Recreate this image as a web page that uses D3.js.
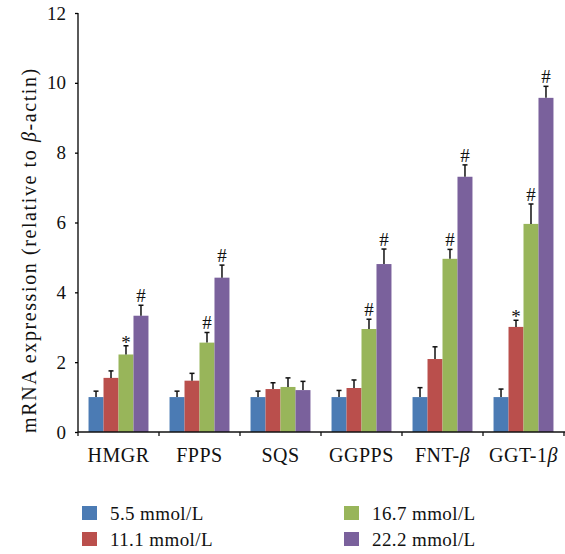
<!DOCTYPE html>
<meta charset="utf-8">
<script src="https://d3js.org/d3.v7.min.js"></script>
<style>
  body { margin: 0; background: #fff; }
  text { font-family: "Liberation Serif", "Times New Roman", serif; fill: #111; }
</style>
<div id="my_dataviz"></div>
<script>

// genes on the x axis
var genes = ["HMGR", "FPPS", "SQS", "GGPPS", "FNT-β", "GGT-1β"];
// glucose groups
var groups = ["5.5 mmol/L", "11.1 mmol/L", "16.7 mmol/L", "22.2 mmol/L"];
var colors = ["#4b7bb4", "#ba4f4c", "#98b55a", "#7a619c"];

// mean values, one array per glucose group (same order as genes)
var g55  = [1.0, 1.0, 1.0, 1.0, 1.0, 1.0];
var g111 = [1.55, 1.47, 1.23, 1.26, 2.09, 3.01];
var g167 = [2.22, 2.56, 1.29, 2.95, 4.96, 5.96];
var g222 = [3.33, 4.42, 1.2, 4.81, 7.31, 9.57];

// SD (upper error bars only)
var e55  = [0.17, 0.17, 0.17, 0.19, 0.27, 0.23];
var e111 = [0.2, 0.21, 0.18, 0.23, 0.35, 0.19];
var e167 = [0.25, 0.29, 0.26, 0.28, 0.27, 0.57];
var e222 = [0.3, 0.36, 0.25, 0.43, 0.34, 0.33];

// significance marks
var s55  = ["", "", "", "", "", ""];
var s111 = ["", "", "", "", "", "*"];
var s167 = ["*", "#", "", "#", "#", "#"];
var s222 = ["#", "#", "", "#", "#", "#"];

var yTicks = [0, 2, 4, 6, 8, 10, 12];

var values = [g55, g111, g167, g222];
var errors = [e55, e111, e167, e222];
var marks = [s55, s111, s167, s222];

var width = 565, height = 554;

var svg = d3.select("#my_dataviz")
  .append("svg")
    .attr("width", width)
    .attr("height", height);

var mLeft = 78, mRight = 564, mTop = 13, mBottom = 432;

var x0 = d3.scaleBand()
  .domain(genes)
  .range([mLeft, mRight])
  .paddingInner(0.26)
  .paddingOuter(0.13);

var x1 = d3.scaleBand()
  .domain(groups)
  .range([0, x0.bandwidth()]);

var y = d3.scaleLinear()
  .domain([0, 12])
  .range([mBottom, mTop]);

// flatten into rows
var rows = [];
genes.forEach(function(g, i) {
  groups.forEach(function(k, j) {
    rows.push({gene: g, group: k, color: colors[j],
               v: values[j][i], e: errors[j][i], m: marks[j][i]});
  });
});

// bars
svg.append("g")
  .selectAll("rect")
  .data(rows)
  .enter()
  .append("rect")
    .attr("x", function(d) { return x0(d.gene) + x1(d.group); })
    .attr("width", x1.bandwidth())
    .attr("y", function(d) { return y(d.v); })
    .attr("height", function(d) { return y(0) - y(d.v); })
    .style("fill", function(d) { return d.color; });

// error bars
var eb = svg.append("g")
  .style("stroke", "#111")
  .style("stroke-width", 1.5);
rows.forEach(function(d) {
  var cx = x0(d.gene) + x1(d.group) + x1.bandwidth() / 2;
  eb.append("line")
    .attr("x1", cx).attr("x2", cx)
    .attr("y1", y(d.v)).attr("y2", y(d.v + d.e));
  eb.append("line")
    .attr("x1", cx - 2.5).attr("x2", cx + 2.5)
    .attr("y1", y(d.v + d.e)).attr("y2", y(d.v + d.e));
});

// significance marks
svg.append("g")
  .selectAll("text")
  .data(rows.filter(function(d) { return d.m !== ""; }))
  .enter()
  .append("text")
    .attr("x", function(d) { return x0(d.gene) + x1(d.group) + x1.bandwidth() / 2; })
    .attr("y", function(d) { return y(d.v + d.e) - (d.m === "*" ? -3 : 3); })
    .attr("text-anchor", "middle")
    .style("font-size", function(d) { return d.m === "*" ? "19px" : "19px"; })
    .text(function(d) { return d.m; });

// y axis
var yAxis = svg.append("g")
  .attr("transform", "translate(" + mLeft + ",0)")
  .call(d3.axisLeft(y).tickValues(yTicks).tickSize(3).tickPadding(9));
yAxis.selectAll("text").style("font-size", "19px").style("font-family", "Liberation Serif");
yAxis.select(".domain").attr("d", "M0," + mTop + "V" + mBottom).style("stroke-width", 1.3);
yAxis.selectAll(".tick line").style("stroke-width", 1.3);

// x axis
var xg = svg.append("g");
xg.append("line")
  .attr("x1", mLeft).attr("x2", width)
  .attr("y1", mBottom).attr("y2", mBottom)
  .style("stroke", "#111").style("stroke-width", 1.3);
var step = x0.step();
d3.range(genes.length + 1).forEach(function(i) {
  var tx = mLeft + i * step;
  xg.append("line")
    .attr("x1", tx).attr("x2", tx)
    .attr("y1", mBottom).attr("y2", mBottom + 4)
    .style("stroke", "#111").style("stroke-width", 1.3);
});
xg.selectAll("text.lab")
  .data(genes)
  .enter()
  .append("text")
    .attr("class", "lab")
    .attr("x", function(d) { return x0(d) + x0.bandwidth() / 2; })
    .attr("y", 462)
    .attr("text-anchor", "middle")
    .style("font-size", "20px")
    .style("letter-spacing", "0.5px")
    .each(function(d) {
      var t = d3.select(this);
      if (d.indexOf("β") >= 0) {
        t.append("tspan").text(d.replace("β", ""));
        t.append("tspan").style("font-style", "italic").text("β");
      } else {
        t.text(d);
      }
    });

// y title
var yt = svg.append("text")
  .attr("transform", "translate(36,250) rotate(-90)")
  .attr("text-anchor", "middle")
  .style("font-size", "20px")
  .style("letter-spacing", "1.6px");
yt.append("tspan").text("mRNA expression (relative to ");
yt.append("tspan").style("font-style", "italic").text("β");
yt.append("tspan").text("-actin)");

// legend
var legPos = [[82, 506], [82, 532], [344, 506], [344, 532]];
var leg = svg.append("g")
  .selectAll("g")
  .data(groups)
  .enter()
  .append("g")
    .attr("transform", function(d, i) { return "translate(" + legPos[i][0] + "," + legPos[i][1] + ")"; });
leg.append("rect")
  .attr("width", 15).attr("height", 14)
  .style("fill", function(d, i) { return colors[i]; });
leg.append("text")
  .attr("x", 28).attr("y", 14)
  .style("font-size", "19px")
  .style("letter-spacing", "0.4px")
  .text(function(d) { return d; });

</script>
